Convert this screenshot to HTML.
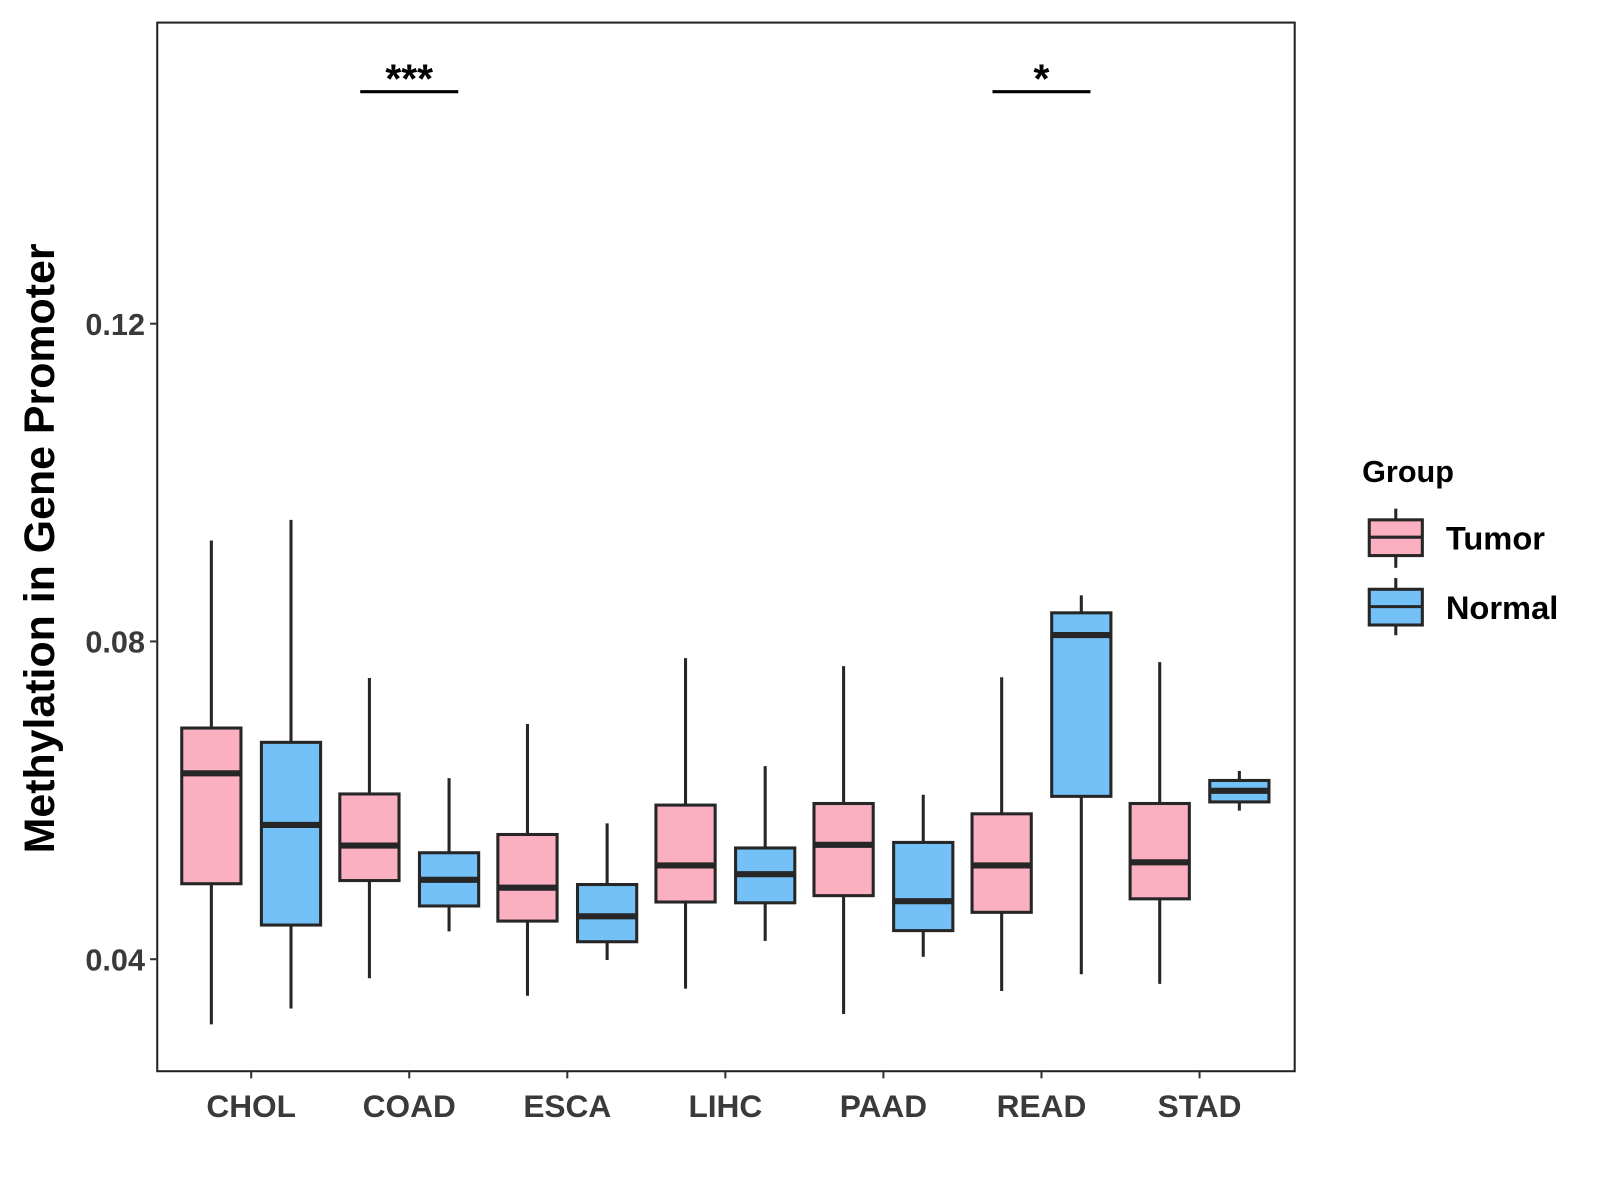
<!DOCTYPE html>
<html><head><meta charset="utf-8"><style>
html,body{margin:0;padding:0;background:#fff;}
svg{display:block;font-family:"Liberation Sans",Arial,sans-serif;}
</style></head><body>
<svg id="chart" width="1600" height="1200" viewBox="0 0 1567 1175" xmlns="http://www.w3.org/2000/svg">
<rect x="0" y="0" width="1567" height="1175" fill="#fff"/>
<g id="plot"></g>
<text transform="translate(53,537) rotate(-90)" text-anchor="middle" font-size="42" font-weight="bold" fill="#000">Methylation in Gene Promoter</text>
<g>
<text x="1334" y="472" font-size="30" font-weight="bold">Group</text>
<g>
<line x1="1367" y1="498" x2="1367" y2="556" stroke="#262626" stroke-width="3"/>
<rect x="1341" y="509" width="52" height="35" fill="#FBB0C2" stroke="#262626" stroke-width="3"/>
<line x1="1341" y1="526" x2="1393" y2="526" stroke="#262626" stroke-width="3"/>
<text x="1416" y="538" font-size="32" font-weight="bold">Tumor</text>
</g>
<g>
<line x1="1367" y1="566" x2="1367" y2="622" stroke="#262626" stroke-width="3"/>
<rect x="1341" y="577" width="52" height="35" fill="#74C1F7" stroke="#262626" stroke-width="3"/>
<line x1="1341" y1="594" x2="1393" y2="594" stroke="#262626" stroke-width="3"/>
<text x="1416" y="606" font-size="32" font-weight="bold">Normal</text>
</g>
</g>
</svg>
<script>
const categories = ["CHOL","COAD","ESCA","LIHC","PAAD","READ","STAD"];
const tumorMin = [0.0318,0.0376,0.0354,0.0363,0.0331,0.0360,0.0369];
const tumorQ1  = [0.0495,0.0499,0.0448,0.0472,0.0480,0.0459,0.0476];
const tumorMed = [0.0634,0.0543,0.0490,0.0518,0.0544,0.0518,0.0522];
const tumorQ3  = [0.0691,0.0608,0.0557,0.0594,0.0596,0.0583,0.0596];
const tumorMax = [0.0927,0.0754,0.0696,0.0779,0.0769,0.0755,0.0774];
const normalMin = [0.0338,0.0435,0.0399,0.0423,0.0403,0.0381,0.0587];
const normalQ1  = [0.0443,0.0467,0.0422,0.0471,0.0436,0.0605,0.0598];
const normalMed = [0.0569,0.0500,0.0454,0.0507,0.0473,0.0808,0.0612];
const normalQ3  = [0.0673,0.0534,0.0494,0.0540,0.0547,0.0836,0.0625];
const normalMax = [0.0953,0.0628,0.0571,0.0643,0.0607,0.0858,0.0637];
const yTicks = [0.04,0.08,0.12];
const yTickLabels = ["0.04","0.08","0.12"];
const sigCategories = ["COAD","READ"];
const sigLabels = ["***","*"];
const sigLevel = 0.1492;

const NS="http://www.w3.org/2000/svg";
const P={l:154,r:1268,t:22,b:1049};
const yMin=0.0259,yMax=0.1579;
function y(v){return P.b-(v-yMin)/(yMax-yMin)*(P.b-P.t);}
function x(i){return 246+i*154.8;}
const g=document.getElementById('plot');
function el(tag,attrs,parent){const e=document.createElementNS(NS,tag);for(const k in attrs)e.setAttribute(k,attrs[k]);(parent||g).appendChild(e);return e;}

const frame=el('rect',{x:P.l,y:P.t,width:P.r-P.l,height:P.b-P.t,fill:'none',stroke:'#222','stroke-width':2});



yTicks.forEach((t,i)=>{
  const tk=el('line',{x1:P.l-7,x2:P.l,y1:y(t),y2:y(t),stroke:'#333','stroke-width':2});
  
  
  const tx=el('text',{x:P.l-12,y:y(t)+11,'text-anchor':'end','font-size':30,'font-weight':'bold',fill:'#3a3a3a'});
  tx.textContent=yTickLabels[i];
  
  
});
categories.forEach((c,i)=>{
  const tk=el('line',{x1:x(i),x2:x(i),y1:P.b,y2:P.b+7,stroke:'#333','stroke-width':2});
  
  
  const tx=el('text',{x:x(i),y:1094,'text-anchor':'middle','font-size':31,'font-weight':'bold',fill:'#3a3a3a'});
  tx.textContent=c;
  
  
});
function box(cx,mn,q1,md,q3,mx,fill,name){
  const bg=el('g',{});
  
  
  el('line',{x1:cx,x2:cx,y1:y(mx),y2:y(q3),stroke:'#262626','stroke-width':3},bg);
  el('line',{x1:cx,x2:cx,y1:y(q1),y2:y(mn),stroke:'#262626','stroke-width':3},bg);
  el('rect',{x:cx-29,y:y(q3),width:58,height:y(q1)-y(q3),fill:fill,stroke:'#262626','stroke-width':3},bg);
  el('line',{x1:cx-29,x2:cx+29,y1:y(md),y2:y(md),stroke:'#262626','stroke-width':6},bg);
}
categories.forEach((c,i)=>{
  box(x(i)-39,tumorMin[i],tumorQ1[i],tumorMed[i],tumorQ3[i],tumorMax[i],'#FBB0C2','box-tumor-'+c.toLowerCase());
  box(x(i)+39,normalMin[i],normalQ1[i],normalMed[i],normalQ3[i],normalMax[i],'#74C1F7','box-normal-'+c.toLowerCase());
});
sigCategories.forEach((c,k)=>{
  const i=categories.indexOf(c);
  const ln=el('line',{x1:x(i)-48,x2:x(i)+48,y1:y(sigLevel),y2:y(sigLevel),stroke:'#000','stroke-width':3});
  
  
  const t=el('text',{x:x(i),y:y(sigLevel)+1,'text-anchor':'middle','font-size':40,'font-weight':'bold'});
  t.textContent=sigLabels[k];
  
  
});
</script>
</body></html>
